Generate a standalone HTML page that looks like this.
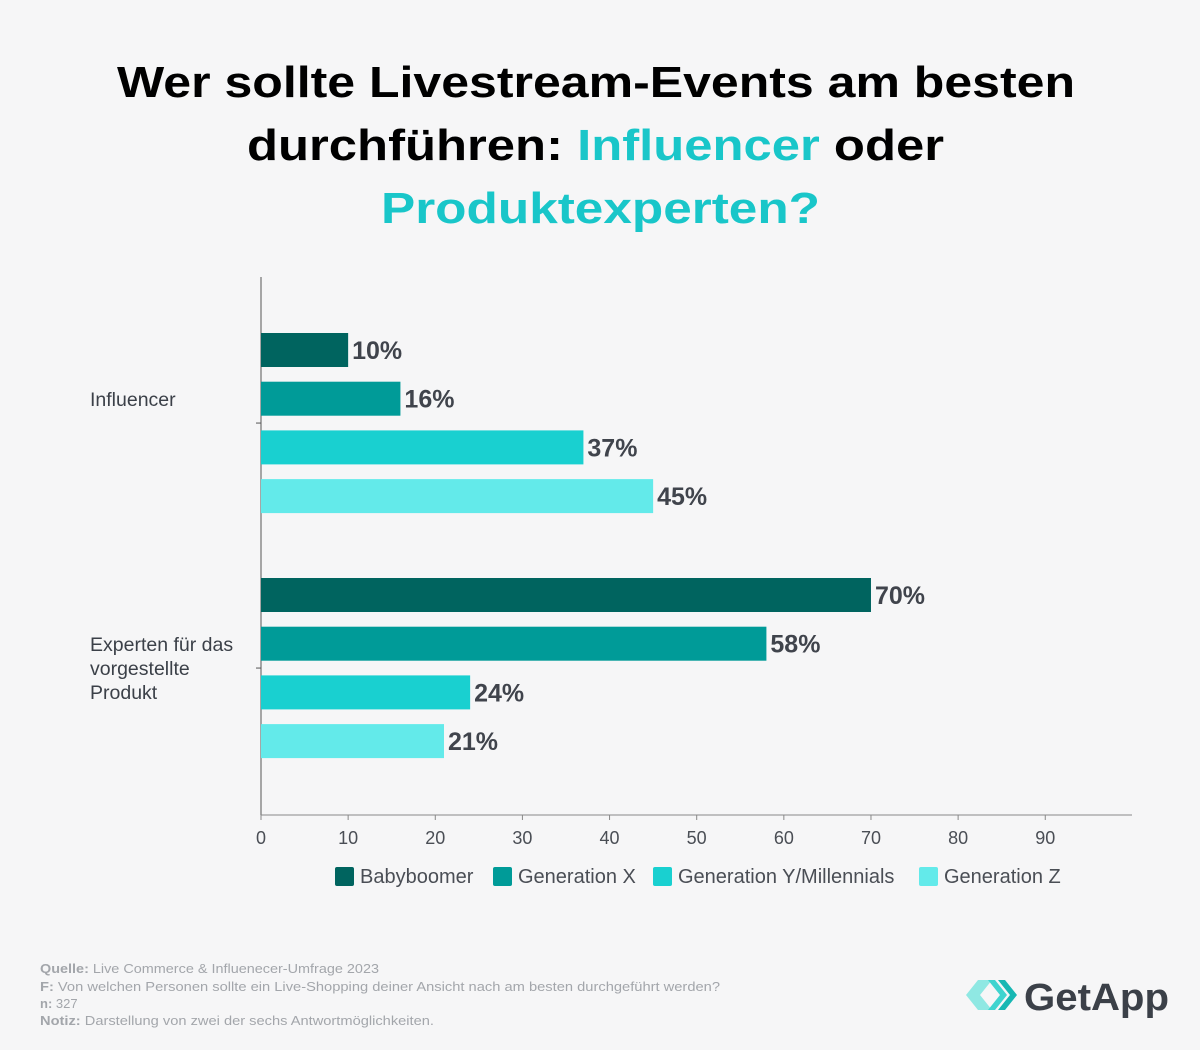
<!DOCTYPE html>
<html><head><meta charset="utf-8"><style>
body{margin:0;width:1200px;height:1050px;background:#f6f6f7;font-family:"Liberation Sans",sans-serif;overflow:hidden}
svg{position:absolute;left:0;top:0}
</style></head><body>
<svg id="c" width="1200" height="1050">
<g font-weight="bold" font-size="44">
<text x="117" y="97" fill="#000" textLength="958" lengthAdjust="spacingAndGlyphs">Wer sollte Livestream-Events am besten</text>
<text x="247" y="160" fill="#000" textLength="697" lengthAdjust="spacingAndGlyphs">durchführen: <tspan fill="#19c6c9">Influencer</tspan> oder</text>
<text x="381" y="223" fill="#19c6c9" textLength="439" lengthAdjust="spacingAndGlyphs">Produktexperten?</text>
</g>
<g id="plot"></g>
<g font-size="13" fill="#a3a6ab">
<text x="40" y="973" textLength="339" lengthAdjust="spacingAndGlyphs"><tspan font-weight="bold">Quelle:</tspan> Live Commerce &amp; Influenecer-Umfrage 2023</text>
<text x="40" y="991" textLength="680" lengthAdjust="spacingAndGlyphs"><tspan font-weight="bold">F:</tspan> Von welchen Personen sollte ein Live-Shopping deiner Ansicht nach am besten durchgeführt werden?</text>
<text x="40" y="1008"><tspan font-weight="bold">n:</tspan> 327</text>
<text x="40" y="1025" textLength="394" lengthAdjust="spacingAndGlyphs"><tspan font-weight="bold">Notiz:</tspan> Darstellung von zwei der sechs Antwortmöglichkeiten.</text>
</g>
<g>
<polygon points="978,980 966,995 978,1010 992,1010 980,995 992,980" fill="#8fe8e3"/>
<polygon points="988,980 1000,995 988,1010 995,1010 1007,995 995,980" fill="#3fd4cf"/>
<polygon points="998,980 1010,995 998,1010 1005,1010 1017,995 1005,980" fill="#17b7b3"/>
<text x="1024" y="1010" font-size="38" font-weight="bold" fill="#3b4048" textLength="145" lengthAdjust="spacingAndGlyphs">GetApp</text>
</g>
</svg>
<script>
const categories=["Influencer","Experten für das vorgestellte Produkt"];
const seriesNames=["Babyboomer","Generation X","Generation Y/Millennials","Generation Z"];
const babyboomer=[10,70];
const genX=[16,58];
const genY=[37,24];
const genZ=[45,21];
const ticks=[0,10,20,30,40,50,60,70,80,90];
const colors=["#00645f","#009b98","#19d0d0","#63eaea"];
const series=[babyboomer,genX,genY,genZ];
const NS="http://www.w3.org/2000/svg";
const g=document.getElementById('plot');
const x0=261,px=8.714;
const X=v=>x0+v*px;
const groupTop=[333,578],step=48.7,bh=34;
function el(t,a,p){const e=document.createElementNS(NS,t);for(const k in a)e.setAttribute(k,a[k]);(p||g).appendChild(e);return e;}
let ax=el('line',{x1:261,y1:277,x2:261,y2:815,stroke:'#555',"stroke-width":1});


let xa=el('line',{x1:261,y1:815,x2:1132,y2:815,stroke:'#888',"stroke-width":1});


ticks.forEach(t=>{
 el('line',{x1:X(t),y1:815,x2:X(t),y2:820,stroke:'#888'});
 let tx=el('text',{x:X(t),y:844,"text-anchor":"middle","font-size":18,fill:'#4a4e55'});
 tx.textContent=t;
 
 
});
categories.forEach((c,ci)=>{
 const mid=groupTop[ci]+1.5*step+bh/2;
 el('line',{x1:256,y1:mid,x2:261,y2:mid,stroke:'#555'});
 const lines=ci==0?["Influencer"]:["Experten für das","vorgestellte","Produkt"];
 lines.forEach((l,li)=>{
  let t=el('text',{x:90,y:(ci==0?406:651)+li*24,"font-size":19.5,fill:'#3b4048'});
  t.textContent=l;
  
  
 });
 series.forEach((s,si)=>{
  const y=groupTop[ci]+si*step;
  let r=el('rect',{x:x0,y:y,width:X(s[ci])-x0,height:bh,fill:colors[si]});
  
  
  let t=el('text',{x:X(s[ci])+4,y:y+bh/2+9,"font-size":25,"font-weight":"bold",fill:'#40444c'});
  t.textContent=s[ci]+'%';
  
  
 });
});
const lx=[335,493,653,919];
seriesNames.forEach((n,i)=>{
 let r=el('rect',{x:lx[i],y:867,width:19,height:19,rx:2,fill:colors[i]});
 
 
 let t=el('text',{x:lx[i]+25,y:883,"font-size":20,fill:'#4a4e55'});
 t.textContent=n;
 
 
});
</script>
</body></html>
